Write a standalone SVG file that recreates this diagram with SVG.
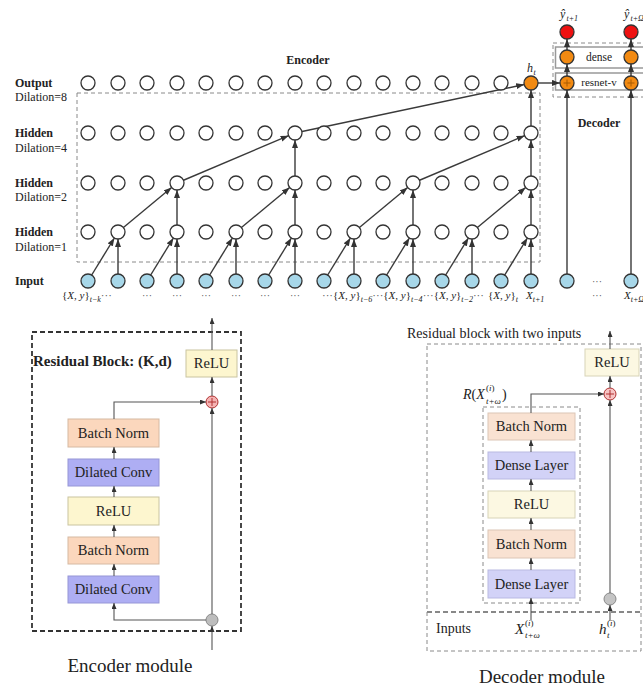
<svg xmlns="http://www.w3.org/2000/svg" width="643" height="687" viewBox="0 0 643 687">
<style>
text{font-family:"Liberation Serif","DejaVu Serif",serif;fill:#222}
.b{font-weight:bold}
.lbl{font-size:12px}
.it{font-style:italic}
.c{fill:#fff;stroke:#333;stroke-width:1.3}
.in{fill:#a7d7e9;stroke:#333;stroke-width:1.3}
.or{fill:#f28a12;stroke:#333;stroke-width:1.3}
.rd{fill:#ee1111;stroke:#333;stroke-width:1.3}
.ln{stroke:#3a3a3a;stroke-width:1.4;fill:none}
.ln2{stroke:#555;stroke-width:1.1;fill:none}
.dash{fill:none;stroke:#8a8a8a;stroke-width:1;stroke-dasharray:4 3}
.relu{fill:#fdf6cf;stroke:#c9c4a0;stroke-width:1}
.bn{fill:#fbd7bd;stroke:#d6b9a2;stroke-width:1}
.dc{fill:#aeaef3;stroke:#9696d6;stroke-width:1}
.relu2{fill:#fcf8e2;stroke:#d8d4b8;stroke-width:1}
.bn2{fill:#f9e2d2;stroke:#dcc6b6;stroke-width:1}
.dl2{fill:#d2d2f7;stroke:#b9b9e2;stroke-width:1}
.bt{font-size:14.5px;text-anchor:middle}
.dots{font-size:10px;text-anchor:middle;fill:#555}
</style>
<defs>
<marker id="arr" markerUnits="userSpaceOnUse" markerWidth="8" markerHeight="6" refX="8" refY="3" orient="auto"><path d="M0,0 L8,3 L0,6 z" fill="#333"/></marker>
<marker id="arrs" markerUnits="userSpaceOnUse" markerWidth="6" markerHeight="5" refX="6" refY="2.5" orient="auto"><path d="M0,0 L6,2.5 L0,5 z" fill="#333"/></marker>
</defs>

<g id="labels">
<text x="15" y="87" class="lbl b">Output</text>
<text x="15" y="101" class="lbl">Dilation=8</text>
<text x="15" y="137" class="lbl b">Hidden</text>
<text x="15" y="152" class="lbl">Dilation=4</text>
<text x="15" y="187" class="lbl b">Hidden</text>
<text x="15" y="201" class="lbl">Dilation=2</text>
<text x="15" y="236" class="lbl b">Hidden</text>
<text x="15" y="251" class="lbl">Dilation=1</text>
<text x="15" y="285" class="lbl b">Input</text>
<text x="308" y="64" class="lbl b" text-anchor="middle">Encoder</text>
<text x="599" y="127" class="lbl b" text-anchor="middle">Decoder</text>
</g>

<g id="encoder-box"><rect x="77" y="93" width="463" height="169" class="dash"/></g>
<g id="decoder-box">
<rect x="553" y="43" width="96" height="54" class="dash"/>
<rect x="555.5" y="47" width="95" height="21" fill="none" stroke="#999" stroke-width="1.5"/>
<rect x="555.5" y="73" width="95" height="17" fill="none" stroke="#999" stroke-width="1.5"/>
<text x="599" y="61" font-size="11.5" text-anchor="middle">dense</text>
<text x="599" y="86" font-size="11" text-anchor="middle">resnet-v</text>
</g>

<g id="connectors">
<g marker-end="url(#arr)" class="ln">
<line x1="88" y1="281" x2="114.4" y2="238"/><line x1="118" y1="281" x2="118" y2="239"/>
<line x1="147" y1="281" x2="173.4" y2="238"/><line x1="177" y1="281" x2="177" y2="239"/>
<line x1="206" y1="281" x2="232.4" y2="238"/><line x1="236" y1="281" x2="236" y2="239"/>
<line x1="265" y1="281" x2="291.4" y2="238"/><line x1="295" y1="281" x2="295" y2="239"/>
<line x1="324" y1="281" x2="350.4" y2="238"/><line x1="354" y1="281" x2="354" y2="239"/>
<line x1="383" y1="281" x2="409.4" y2="238"/><line x1="413" y1="281" x2="413" y2="239"/>
<line x1="442" y1="281" x2="468.4" y2="238"/><line x1="472" y1="281" x2="472" y2="239"/>
<line x1="501" y1="281" x2="527.4" y2="238"/><line x1="531" y1="281" x2="531" y2="239"/>
<line x1="118" y1="232" x2="171.6" y2="187.5"/><line x1="177" y1="232" x2="177" y2="190"/>
<line x1="236" y1="232" x2="289.6" y2="187.5"/><line x1="295" y1="232" x2="295" y2="190"/>
<line x1="354" y1="232" x2="407.6" y2="187.5"/><line x1="413" y1="232" x2="413" y2="190"/>
<line x1="472" y1="232" x2="525.6" y2="187.5"/><line x1="531" y1="232" x2="531" y2="190"/>
<line x1="177" y1="183" x2="288.6" y2="135.7"/><line x1="295" y1="183" x2="295" y2="140"/>
<line x1="413" y1="183" x2="524.6" y2="135.7"/><line x1="531" y1="183" x2="531" y2="140"/>
<line x1="295" y1="133" x2="524.2" y2="84.5"/><line x1="531" y1="133" x2="531" y2="90"/>
<line x1="538" y1="83" x2="560" y2="83"/>
<line x1="567" y1="274" x2="567" y2="90"/>
<line x1="631" y1="274" x2="631" y2="90"/>
<line x1="567" y1="76" x2="567" y2="64"/>
<line x1="631" y1="76" x2="631" y2="64"/>
<line x1="567" y1="50" x2="567" y2="39"/>
<line x1="631" y1="50" x2="631" y2="39"/>
</g>
</g>

<g id="nodes-output">
<circle cx="88" cy="83" r="7" class="c"/><circle cx="118" cy="83" r="7" class="c"/><circle cx="147" cy="83" r="7" class="c"/><circle cx="177" cy="83" r="7" class="c"/><circle cx="206" cy="83" r="7" class="c"/><circle cx="236" cy="83" r="7" class="c"/><circle cx="265" cy="83" r="7" class="c"/><circle cx="295" cy="83" r="7" class="c"/><circle cx="324" cy="83" r="7" class="c"/><circle cx="354" cy="83" r="7" class="c"/><circle cx="383" cy="83" r="7" class="c"/><circle cx="413" cy="83" r="7" class="c"/><circle cx="442" cy="83" r="7" class="c"/><circle cx="472" cy="83" r="7" class="c"/><circle cx="501" cy="83" r="7" class="c"/>
</g>
<g id="node-ht">
<circle cx="531" cy="83" r="7" class="or"/>
<text x="527" y="72" font-size="12" class="it">h</text><text x="533.5" y="74.5" font-size="8" class="it">t</text>
</g>
<g id="nodes-hidden4">
<circle cx="88" cy="133" r="7" class="c"/><circle cx="118" cy="133" r="7" class="c"/><circle cx="147" cy="133" r="7" class="c"/><circle cx="177" cy="133" r="7" class="c"/><circle cx="206" cy="133" r="7" class="c"/><circle cx="236" cy="133" r="7" class="c"/><circle cx="265" cy="133" r="7" class="c"/><circle cx="295" cy="133" r="7" class="c"/><circle cx="324" cy="133" r="7" class="c"/><circle cx="354" cy="133" r="7" class="c"/><circle cx="383" cy="133" r="7" class="c"/><circle cx="413" cy="133" r="7" class="c"/><circle cx="442" cy="133" r="7" class="c"/><circle cx="472" cy="133" r="7" class="c"/><circle cx="501" cy="133" r="7" class="c"/><circle cx="531" cy="133" r="7" class="c"/>
</g>
<g id="nodes-hidden2">
<circle cx="88" cy="183" r="7" class="c"/><circle cx="118" cy="183" r="7" class="c"/><circle cx="147" cy="183" r="7" class="c"/><circle cx="177" cy="183" r="7" class="c"/><circle cx="206" cy="183" r="7" class="c"/><circle cx="236" cy="183" r="7" class="c"/><circle cx="265" cy="183" r="7" class="c"/><circle cx="295" cy="183" r="7" class="c"/><circle cx="324" cy="183" r="7" class="c"/><circle cx="354" cy="183" r="7" class="c"/><circle cx="383" cy="183" r="7" class="c"/><circle cx="413" cy="183" r="7" class="c"/><circle cx="442" cy="183" r="7" class="c"/><circle cx="472" cy="183" r="7" class="c"/><circle cx="501" cy="183" r="7" class="c"/><circle cx="531" cy="183" r="7" class="c"/>
</g>
<g id="nodes-hidden1">
<circle cx="88" cy="232" r="7" class="c"/><circle cx="118" cy="232" r="7" class="c"/><circle cx="147" cy="232" r="7" class="c"/><circle cx="177" cy="232" r="7" class="c"/><circle cx="206" cy="232" r="7" class="c"/><circle cx="236" cy="232" r="7" class="c"/><circle cx="265" cy="232" r="7" class="c"/><circle cx="295" cy="232" r="7" class="c"/><circle cx="324" cy="232" r="7" class="c"/><circle cx="354" cy="232" r="7" class="c"/><circle cx="383" cy="232" r="7" class="c"/><circle cx="413" cy="232" r="7" class="c"/><circle cx="442" cy="232" r="7" class="c"/><circle cx="472" cy="232" r="7" class="c"/><circle cx="501" cy="232" r="7" class="c"/><circle cx="531" cy="232" r="7" class="c"/>
</g>
<g id="nodes-input">
<circle cx="88" cy="281" r="7" class="in"/><circle cx="118" cy="281" r="7" class="in"/><circle cx="147" cy="281" r="7" class="in"/><circle cx="177" cy="281" r="7" class="in"/><circle cx="206" cy="281" r="7" class="in"/><circle cx="236" cy="281" r="7" class="in"/><circle cx="265" cy="281" r="7" class="in"/><circle cx="295" cy="281" r="7" class="in"/><circle cx="324" cy="281" r="7" class="in"/><circle cx="354" cy="281" r="7" class="in"/><circle cx="383" cy="281" r="7" class="in"/><circle cx="413" cy="281" r="7" class="in"/><circle cx="442" cy="281" r="7" class="in"/><circle cx="472" cy="281" r="7" class="in"/><circle cx="501" cy="281" r="7" class="in"/><circle cx="531" cy="281" r="7" class="in"/>
<circle cx="567" cy="281" r="7" class="in"/><circle cx="631" cy="281" r="7" class="in"/>
<text x="597" y="285" class="dots">···</text>
</g>
<g id="nodes-decoder">
<circle cx="567" cy="83" r="7" class="or"/><circle cx="631" cy="83" r="7" class="or"/>
<path d="M563.5,83 h7 M567,79.5 v7 M627.5,83 h7 M631,79.5 v7" stroke="#a85a00" stroke-width="1"/>
<circle cx="567" cy="57" r="7" class="or"/><circle cx="631" cy="57" r="7" class="or"/>
<circle cx="567" cy="32" r="7" class="rd"/><circle cx="631" cy="32" r="7" class="rd"/>
<text x="560" y="18" font-size="12" class="it">ŷ</text><text x="566.5" y="20.5" font-size="8" class="it">t+1</text>
<text x="624" y="18" font-size="12" class="it">ŷ</text><text x="630.5" y="20.5" font-size="8" class="it">t+Ω</text>
</g>
<g id="input-labels" font-size="11">
<text x="62" y="299">{<tspan class="it">X</tspan>, <tspan class="it">y</tspan>}<tspan font-size="8" dy="2.5" class="it">t−k</tspan><tspan dy="-2.5" fill="#555">···</tspan></text>
<text x="147" y="299" class="dots">···</text><text x="177" y="299" class="dots">···</text><text x="206" y="299" class="dots">···</text><text x="236" y="299" class="dots">···</text><text x="265" y="299" class="dots">···</text><text x="295" y="299" class="dots">···</text>
<text x="322" y="299"><tspan fill="#555">···</tspan>{<tspan class="it">X</tspan>, <tspan class="it">y</tspan>}<tspan font-size="8" dy="2.5" class="it">t−6</tspan><tspan dy="-2.5" fill="#555">···</tspan>{<tspan class="it">X</tspan>, <tspan class="it">y</tspan>}<tspan font-size="8" dy="2.5" class="it">t−4</tspan><tspan dy="-2.5" fill="#555">···</tspan>{<tspan class="it">X</tspan>, <tspan class="it">y</tspan>}<tspan font-size="8" dy="2.5" class="it">t−2</tspan><tspan dy="-2.5" fill="#555">···</tspan></text>
<text x="488" y="299">{<tspan class="it">X</tspan>, <tspan class="it">y</tspan>}<tspan font-size="8" dy="2.5" class="it">t</tspan></text>
<text x="526" y="299"><tspan class="it">X</tspan><tspan font-size="8" dy="2.5" class="it">t+1</tspan></text>
<text x="597" y="299" class="dots">···</text>
<text x="624" y="299"><tspan class="it">X</tspan><tspan font-size="8" dy="2.5" class="it">t+Ω</tspan></text>
</g>

<g id="enc-module">
<rect x="32" y="332" width="209" height="299" fill="none" stroke="#333" stroke-width="1.8" stroke-dasharray="5 3"/>
<text x="33" y="366" font-size="15" class="b">Residual Block: (K,d)</text>
<text x="130" y="672" font-size="19" text-anchor="middle">Encoder module</text>
</g>
<g id="enc-relu-out"><rect x="186" y="350" width="51" height="27" class="relu"/><text x="211.5" y="368" class="bt">ReLU</text></g>
<g id="enc-plus"><circle cx="212" cy="402" r="6" fill="#f5b3b3" stroke="#b03030" stroke-width="1"/><path d="M208,402 h8 M212,398 v8" stroke="#b03030" stroke-width="1"/></g>
<g id="enc-bn1"><rect x="68" y="419" width="91" height="28" class="bn"/><text x="113.5" y="438" class="bt">Batch Norm</text></g>
<g id="enc-dc1"><rect x="68" y="459" width="91" height="27" class="dc"/><text x="113.5" y="477" class="bt">Dilated Conv</text></g>
<g id="enc-relu"><rect x="68" y="497" width="91" height="28" class="relu"/><text x="113.5" y="516" class="bt">ReLU</text></g>
<g id="enc-bn2"><rect x="68" y="537" width="91" height="27" class="bn"/><text x="113.5" y="555" class="bt">Batch Norm</text></g>
<g id="enc-dc2"><rect x="68" y="576" width="91" height="27" class="dc"/><text x="113.5" y="594" class="bt">Dilated Conv</text></g>
<g id="enc-split"><circle cx="212" cy="620" r="6" fill="#bdbdbd" stroke="#888" stroke-width="1"/></g>
<g id="enc-connectors" class="ln2" marker-end="url(#arrs)">
<line x1="212" y1="350" x2="212" y2="318"/>
<line x1="212" y1="396" x2="212" y2="377"/>
<path d="M114,419 V402 H206"/>
<line x1="114" y1="459" x2="114" y2="447"/>
<line x1="114" y1="497" x2="114" y2="486"/>
<line x1="114" y1="537" x2="114" y2="525"/>
<line x1="114" y1="576" x2="114" y2="564"/>
<path d="M206,620 H114 V603"/>
<line x1="212" y1="614" x2="212" y2="408"/>
<line x1="212" y1="650" x2="212" y2="626"/>
</g>

<g id="dec-module">
<text x="407" y="338" font-size="14">Residual block with two inputs</text>
<rect x="427" y="344" width="214" height="307" class="dash"/>
<line x1="427" y1="612" x2="641" y2="612" stroke="#888" stroke-width="2" stroke-dasharray="5 3"/>
<rect x="483" y="407" width="97" height="196" class="dash"/>
<text x="542" y="683" font-size="19" text-anchor="middle">Decoder module</text>
</g>
<g id="dec-relu-out"><rect x="585" y="349" width="54" height="27" class="relu2"/><text x="612" y="367" class="bt">ReLU</text></g>
<g id="dec-plus"><circle cx="610" cy="394" r="6" fill="#f7c4c4" stroke="#b03030" stroke-width="1"/><path d="M606,394 h8 M610,390 v8" stroke="#b03030" stroke-width="1"/></g>
<g id="dec-r-label"><text x="463" y="399" font-size="14"><tspan class="it">R</tspan>(<tspan class="it">X</tspan></text><text x="486" y="391" font-size="9">(<tspan class="it">i</tspan>)</text><text x="486" y="404" font-size="9" class="it">t+ω</text><text x="502" y="399" font-size="14">)</text></g>
<g id="dec-bn1"><rect x="488" y="413" width="87" height="27" class="bn2"/><text x="531.5" y="431" class="bt">Batch Norm</text></g>
<g id="dec-dl1"><rect x="488" y="452" width="87" height="27" class="dl2"/><text x="531.5" y="470" class="bt">Dense Layer</text></g>
<g id="dec-relu"><rect x="488" y="491" width="87" height="27" class="relu2"/><text x="531.5" y="509" class="bt">ReLU</text></g>
<g id="dec-bn2"><rect x="488" y="530" width="87" height="28" class="bn2"/><text x="531.5" y="549" class="bt">Batch Norm</text></g>
<g id="dec-dl2"><rect x="488" y="570" width="87" height="28" class="dl2"/><text x="531.5" y="589" class="bt">Dense Layer</text></g>
<g id="dec-split"><circle cx="610" cy="599" r="6" fill="#c4c4c4" stroke="#888" stroke-width="1"/></g>
<g id="dec-inputs">
<text x="436" y="633" font-size="14">Inputs</text>
<text x="515" y="634" font-size="15" class="it">X</text><text x="525" y="626" font-size="9">(<tspan class="it">i</tspan>)</text><text x="525" y="638" font-size="9" class="it">t+ω</text>
<text x="599" y="634" font-size="15" class="it">h</text><text x="607" y="626" font-size="9">(<tspan class="it">i</tspan>)</text><text x="607" y="638" font-size="9" class="it">t</text>
</g>
<g id="dec-connectors" class="ln2" marker-end="url(#arrs)">
<line x1="610" y1="349" x2="610" y2="331"/>
<line x1="610" y1="388" x2="610" y2="376"/>
<path d="M531,413 V394 H604"/>
<line x1="531" y1="452" x2="531" y2="440"/>
<line x1="531" y1="491" x2="531" y2="479"/>
<line x1="531" y1="530" x2="531" y2="518"/>
<line x1="531" y1="570" x2="531" y2="558"/>
<line x1="531" y1="620" x2="531" y2="598"/>
<line x1="610" y1="621" x2="610" y2="605"/>
<line x1="610" y1="593" x2="610" y2="400"/>
</g>
</svg>
